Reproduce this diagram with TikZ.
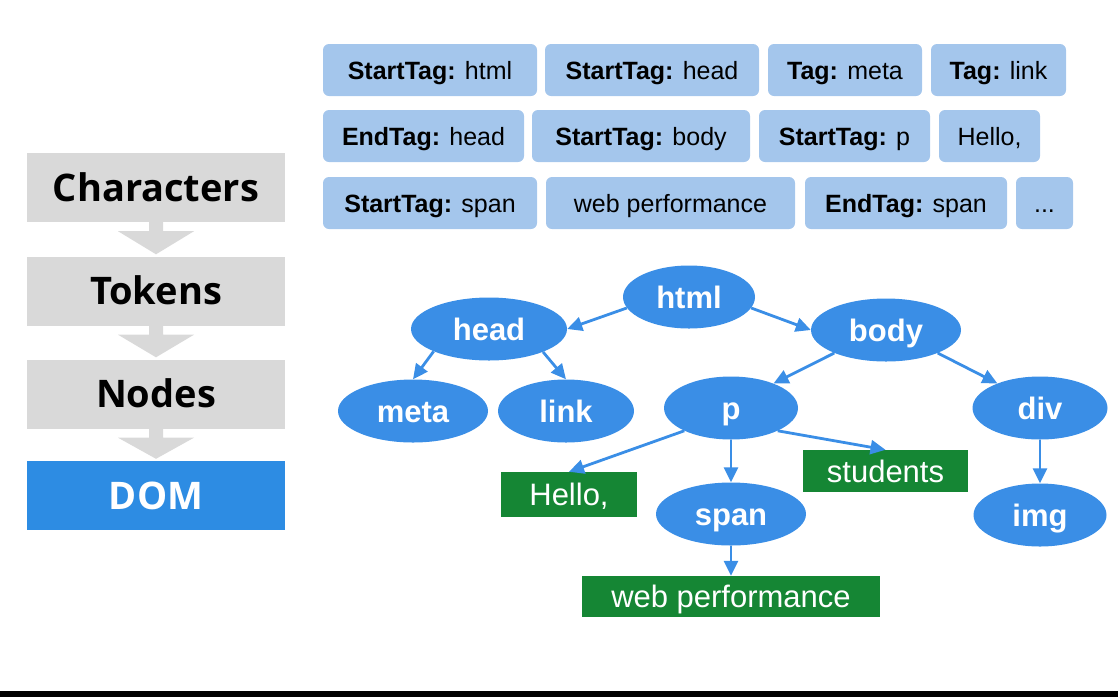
\documentclass[tikz,border=0pt]{standalone}
\usepackage{fontspec}
\setmainfont{Liberation Sans}
\newfontfamily\stagefont{Open Sans}
\usetikzlibrary{shapes.geometric,arrows.meta,calc}
\definecolor{stagegray}{RGB}{217,217,217}
\definecolor{domblue}{RGB}{45,140,227}
\definecolor{tokblue}{RGB}{164,198,236}
\definecolor{elemblue}{RGB}{58,142,230}
\definecolor{txtgreen}{RGB}{21,134,52}

\begin{document}
\begin{tikzpicture}[x=1pt, y=-1pt,
		stage/.style={fill=stagegray, minimum width=258, minimum height=69, inner sep=0,
			text height=27, text depth=0,
			font=\stagefont\bfseries\fontsize{38}{40}\selectfont},
		tok/.style={fill=tokblue, rounded corners=6, minimum height=52, inner sep=0,
			text height=18, text depth=0, font=\fontsize{25}{30}\selectfont},
		elem/.style={ellipse, fill=elemblue, text=white, minimum height=63, inner sep=0,
			text height=22, text depth=0, font=\bfseries\fontsize{31}{36}\selectfont},
		txt/.style={fill=txtgreen, text=white, inner sep=0,
			text height=22, text depth=0, font=\fontsize{31}{36}\selectfont},
		arr/.style={draw=elemblue, line width=2.8, -{Triangle[length=15pt,width=14pt]}}]
	\useasboundingbox (0,0) rectangle (1118,697);
	
	% pipeline
	\node[stage] (chars) at (156,187.5) {Characters};
	\node[stage] (toks) at (156,291) {Tokens};
	\node[stage] (nods) at (156,394) {Nodes};
	\node[stage, fill=domblue, text=white] (dom) at (156,495.5) {DOM};
	\foreach \a/\b in {chars/toks, toks/nods, nods/dom}
		\fill[stagegray] ($(\a.south)+(-7,0)$) -- ++(0,9) -- ++(-31,0) -- ($(\b.north)+(0,-2)$)
			-- ($(\a.south)+(38,9)$) -- ++(-31,0) -- ($(\a.south)+(7,0)$) -- cycle;
	
	% tokens
	\node[tok, minimum width=214] (k1) at (430,70) {\textbf{StartTag:} html};
	\node[tok, minimum width=214] (k2) at (652,70) {\textbf{StartTag:} head};
	\node[tok, minimum width=154] (k3) at (845,70) {\textbf{Tag:} meta};
	\node[tok, minimum width=135] (k4) at (998.5,70) {\textbf{Tag:} link};
	\node[tok, minimum width=201] (k5) at (423.5,136) {\textbf{EndTag:} head};
	\node[tok, minimum width=218] (k6) at (641,136) {\textbf{StartTag:} body};
	\node[tok, minimum width=171] (k7) at (844.5,136) {\textbf{StartTag:} p};
	\node[tok, minimum width=101] (k8) at (989.5,136) {Hello,};
	\node[tok, minimum width=214] (k9) at (430,203) {\textbf{StartTag:} span};
	\node[tok, minimum width=249] (k10) at (670.5,203) {web performance};
	\node[tok, minimum width=202] (k11) at (906,203) {\textbf{EndTag:} span};
	\node[tok, minimum width=57] (k12) at (1044.5,203) {...};
	
	% dom tree
	\node[elem, minimum width=132] (html) at (689,297) {html};
	\node[elem, minimum width=156] (head) at (489,329) {head};
	\node[elem, minimum width=150] (body) at (886,330) {body};
	\node[elem, minimum width=150] (meta) at (413,411) {meta};
	\node[elem, minimum width=136] (link) at (566,411) {link};
	\node[elem, minimum width=134] (p) at (731,408) {p};
	\node[elem, minimum width=135] (div) at (1040,408) {div};
	\node[elem, minimum width=150] (span) at (731,514) {span};
	\node[elem, minimum width=133] (img) at (1040,515) {img};
	\node[txt, minimum width=136, minimum height=45] (hello) at (569,494.5) {Hello,};
	\node[txt, minimum width=165, minimum height=42] (stud) at (885.5,471) {students};
	\node[txt, minimum width=298, minimum height=41] (web) at (731,596.5) {web performance};
	
	\draw[arr] (html.190) -- (head.east);
	\draw[arr] (html.-10) -- (body.west);
	\draw[arr] (head.202) -- (meta.north);
	\draw[arr] (head.-23) -- (link.north);
	\draw[arr] (body.204) -- (p.30);
	\draw[arr] (body.-24) -- (div.150);
	\draw[arr] (p.206) -- (hello.north);
	\draw[arr] (p.south) -- (span.north);
	\draw[arr] (p.-26) -- (stud.north);
	\draw[arr] (span.south) -- (web.north);
	\draw[arr] (div.south) -- (img.north);
	
	\fill[black] (0,691) rectangle (1118,697);
\end{tikzpicture}
\end{document}
